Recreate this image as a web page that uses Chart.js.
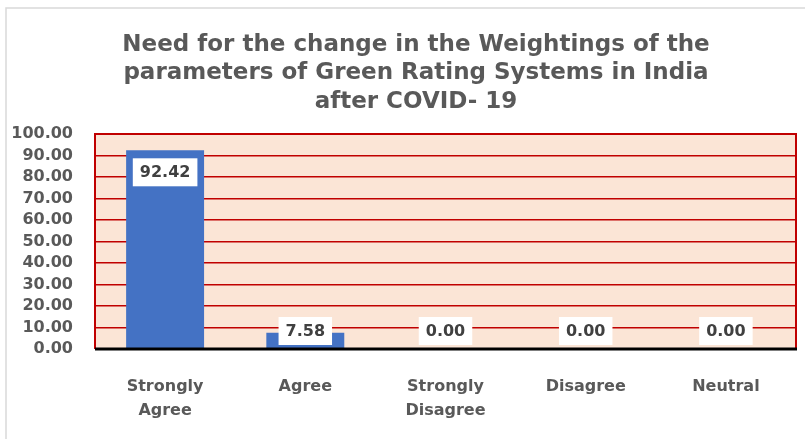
<!DOCTYPE html>
<html>
<head>
<meta charset="utf-8">
<script src="https://cdn.jsdelivr.net/npm/chart.js@4.4.1/dist/chart.umd.min.js"></script>
<style>
  html, body { margin: 0; padding: 0; background: #fff; }
  #wrap { width: 805px; height: 439px; }
</style>
</head>
<body>
<div id="wrap"><canvas id="chart" width="805" height="439"></canvas></div>
<script>
// data
const categories = [['Strongly', 'Agree'], 'Agree', ['Strongly', 'Disagree'], 'Disagree', 'Neutral'];
const responses = [92.42, 7.58, 0.00, 0.00, 0.00];
const titleLines = ['Need for the change in the Weightings of the', 'parameters of Green Rating Systems in India', 'after COVID- 19'];

const textGrey = '#595959';
const fontName = "'DejaVu Sans', sans-serif";

// background, frame and title
const frame = {
    id: 'frame',
    beforeDraw(chart) {
        const ctx = chart.ctx;
        const a = chart.chartArea;
        ctx.save();
        ctx.strokeStyle = '#d9d9d9';
        ctx.lineWidth = 1.5;
        ctx.strokeRect(6, 8, 900, 600);
        ctx.fillStyle = '#fbe5d6';
        ctx.fillRect(a.left, a.top, a.right - a.left, a.bottom - a.top);
        ctx.fillStyle = textGrey;
        ctx.font = 'bold 23px ' + fontName;
        ctx.textAlign = 'center';
        ctx.textBaseline = 'middle';
        titleLines.forEach((line, i) => ctx.fillText(line, 416, 45 + i * 28.5));
        ctx.restore();
    },
    afterDraw(chart) {
        const ctx = chart.ctx;
        const a = chart.chartArea;
        ctx.save();
        ctx.strokeStyle = '#c00000';
        ctx.lineWidth = 2;
        ctx.beginPath();
        ctx.moveTo(a.left, a.bottom);
        ctx.lineTo(a.left, a.top);
        ctx.lineTo(a.right, a.top);
        ctx.lineTo(a.right, a.bottom);
        ctx.stroke();
        ctx.strokeStyle = '#000';
        ctx.lineWidth = 3;
        ctx.beginPath();
        ctx.moveTo(a.left, a.bottom);
        ctx.lineTo(a.right + 1, a.bottom);
        ctx.stroke();
        ctx.restore();
    }
};

// white boxed value labels
const valueBoxes = {
    id: 'valueBoxes',
    afterDatasetsDraw(chart) {
        const ctx = chart.ctx;
        const meta = chart.getDatasetMeta(0);
        const base = chart.scales.y.getPixelForValue(0);
        ctx.save();
        ctx.font = 'bold 16px ' + fontName;
        ctx.textAlign = 'center';
        ctx.textBaseline = 'middle';
        meta.data.forEach((bar, i) => {
            const txt = responses[i].toFixed(2);
            const w = ctx.measureText(txt).width + 14;
            const h = 28;
            const cy = Math.min(bar.y + 22, base - 18);
            ctx.fillStyle = '#fff';
            ctx.fillRect(bar.x - w / 2, cy - h / 2, w, h);
            ctx.fillStyle = '#404040';
            ctx.fillText(txt, bar.x, cy + 1);
        });
        ctx.restore();
    }
};

new Chart(document.getElementById('chart'), {
    type: 'bar',
    data: {
        labels: categories,
        datasets: [{
            data: responses,
            backgroundColor: '#4472c4',
            barPercentage: 0.556,
            categoryPercentage: 1
        }]
    },
    options: {
        responsive: false,
        animation: false,
        devicePixelRatio: 1,
        layout: { padding: { top: 134, right: 9, bottom: 0, left: 0 } },
        plugins: {
            legend: { display: false },
            tooltip: { enabled: false },
            title: { display: false }
        },
        scales: {
            x: {
                afterFit(scale) { scale.height = 90; },
                grid: { display: false, drawTicks: false },
                border: { display: false },
                ticks: {
                    color: textGrey,
                    font: { family: fontName, size: 16, weight: 'bold', lineHeight: 1.5 },
                    padding: 26,
                    maxRotation: 0,
                    autoSkip: false
                }
            },
            y: {
                min: 0,
                max: 100,
                afterFit(scale) { scale.width = 95; },
                grid: { color: '#c00000', lineWidth: 1.5, drawTicks: false },
                border: { display: false },
                ticks: {
                    stepSize: 10,
                    autoSkip: false,
                    color: textGrey,
                    padding: 22,
                    font: { family: fontName, size: 16, weight: 'bold' },
                    callback: v => v.toFixed(2)
                }
            }
        }
    },
    plugins: [frame, valueBoxes]
});
</script>
</body>
</html>
